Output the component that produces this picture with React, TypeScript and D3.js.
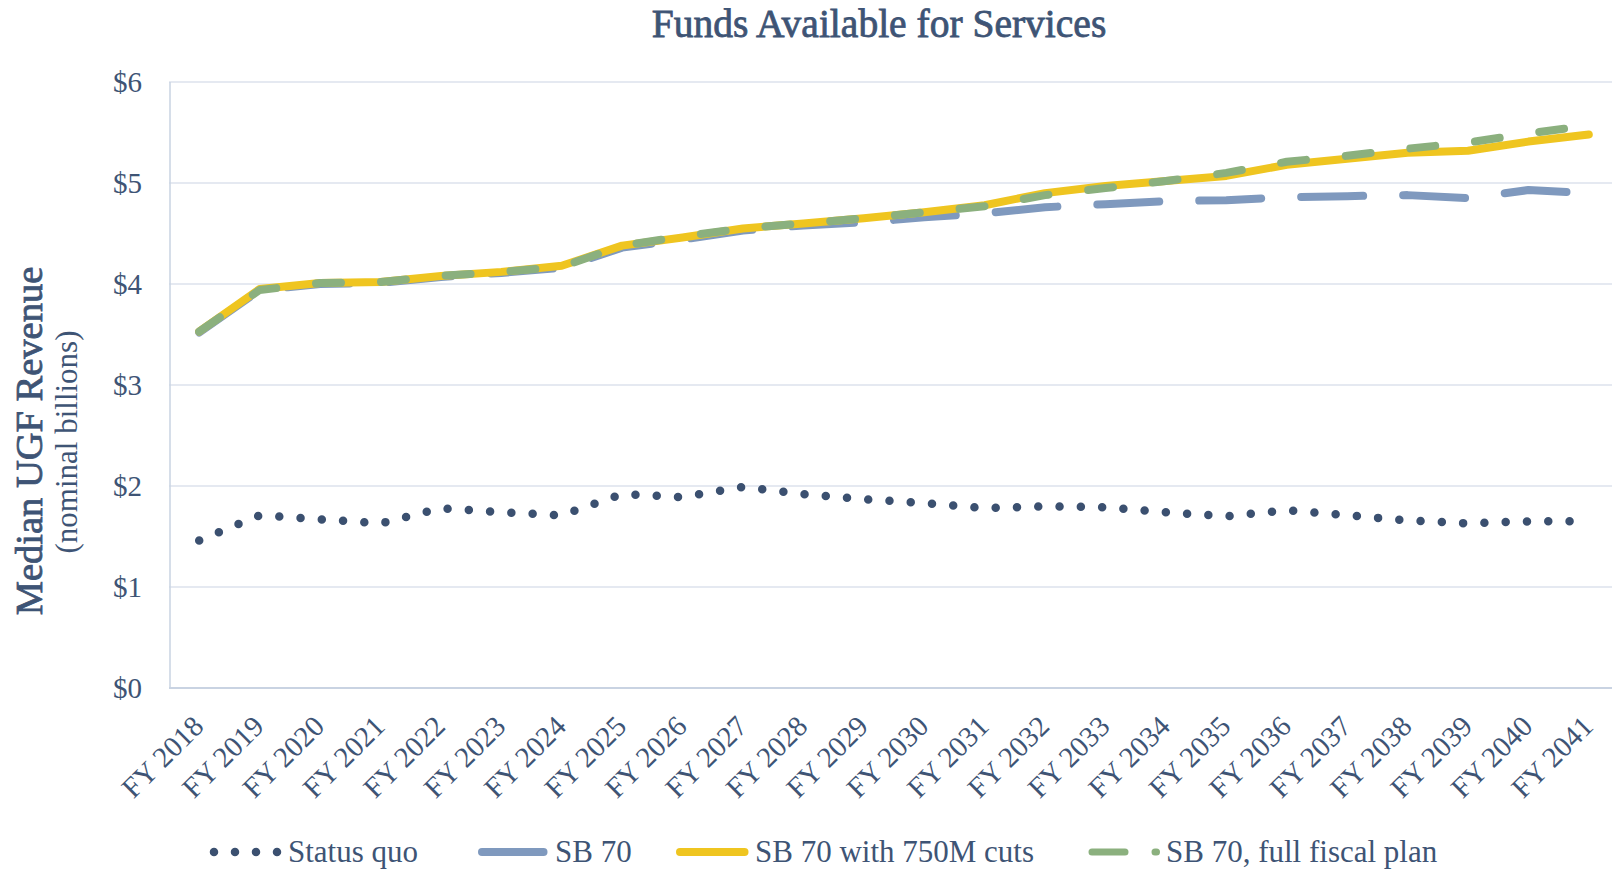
import React, { useRef, useEffect } from "react";
import * as d3 from "d3";

// Fiscal years on the category axis
const years = [
    "FY 2018", "FY 2019", "FY 2020", "FY 2021", "FY 2022", "FY 2023",
    "FY 2024", "FY 2025", "FY 2026", "FY 2027", "FY 2028", "FY 2029",
    "FY 2030", "FY 2031", "FY 2032", "FY 2033", "FY 2034", "FY 2035",
    "FY 2036", "FY 2037", "FY 2038", "FY 2039", "FY 2040", "FY 2041",
];

// Median UGF revenue, nominal $ billions
const statusQuo = [
    1.46, 1.71, 1.67, 1.63, 1.78, 1.74, 1.71, 1.92, 1.89, 1.99, 1.92, 1.87,
    1.83, 1.78, 1.80, 1.79, 1.74, 1.70, 1.76, 1.71, 1.66, 1.63, 1.65, 1.65,
];
const sb70 = [
    3.52, 3.94, 4.00, 4.01, 4.07, 4.11, 4.16, 4.36, 4.44, 4.53, 4.58, 4.61,
    4.66, 4.70, 4.76, 4.79, 4.82, 4.83, 4.86, 4.87, 4.88, 4.85, 4.93, 4.90,
];
const sb70Cuts = [
    3.53, 3.95, 4.01, 4.02, 4.08, 4.12, 4.18, 4.38, 4.46, 4.55, 4.60, 4.65,
    4.71, 4.78, 4.90, 4.97, 5.02, 5.07, 5.18, 5.24, 5.30, 5.32, 5.41, 5.48,
];
const sb70Full = [
    3.53, 3.94, 4.01, 4.02, 4.08, 4.12, 4.17, 4.38, 4.47, 4.55, 4.60, 4.65,
    4.71, 4.77, 4.88, 4.95, 5.02, 5.10, 5.21, 5.27, 5.34, 5.40, 5.49, 5.57,
];

const yTicks = [0, 1, 2, 3, 4, 5, 6];
const seriesNames = ["Status quo", "SB 70", "SB 70 with 750M cuts", "SB 70, full fiscal plan"];

const App = () => {
    const ref = useRef<SVGSVGElement>(null);

    useEffect(() => {
        const svgWidth = 1612;
        const svgHeight = 872;
        const margin = { top: 82, right: -7, bottom: 184, left: 169 };
        const fontFamily = "'Liberation Serif', 'Times New Roman', serif";
        const fontColor = "#3e5475";
        const gridColor = "#dce2ec";
        const axisColor = "#c9d3e2";

        const series = [
            { name: seriesNames[0], values: statusQuo, color: "#3b5070", width: 8.5, dash: "0 21.3" },
            { name: seriesNames[1], values: sb70, color: "#7f99be", width: 8, dash: "62 40" },
            { name: seriesNames[2], values: sb70Cuts, color: "#efc520", width: 8, dash: null },
            { name: seriesNames[3], values: sb70Full, color: "#8bb07e", width: 8, dash: "25 40" },
        ];

        // legend layout: marker start, marker end, text start (px)
        const legendLayout = [
            { x0: 214, x1: 278, tx: 288, dash: "0 21" },
            { x0: 482, x1: 543, tx: 555, dash: null },
            { x0: 680, x1: 744, tx: 755, dash: null },
            { x0: 1092, x1: 1156, tx: 1166, dash: "33 30" },
        ];

        const svg = d3.select(ref.current)
            .attr("width", svgWidth)
            .attr("height", svgHeight);

        svg.selectAll("*").remove();

        const xScale = d3.scaleBand()
            .domain(years)
            .range([margin.left, svgWidth - margin.right])
            .paddingInner(0)
            .paddingOuter(0);
        const xCenter = (d: string) => (xScale(d) as number) + xScale.bandwidth() / 2;

        const yScale = d3.scaleLinear()
            .domain([0, 6])
            .range([svgHeight - margin.bottom, margin.top]);

        // Title (thin stroke to mimic a semibold face)
        svg.append("text")
            .attr("x", 879)
            .attr("y", 37)
            .attr("text-anchor", "middle")
            .style("font-family", fontFamily)
            .style("font-size", "39.5px")
            .style("fill", fontColor)
            .style("stroke", fontColor)
            .style("stroke-width", 0.8)
            .text("Funds Available for Services");

        // Horizontal grid lines
        svg.append("g")
            .attr("class", "grid")
            .selectAll("line")
            .data(yTicks.filter(d => d > 0))
            .join("line")
            .attr("x1", margin.left)
            .attr("x2", svgWidth - margin.right)
            .attr("y1", d => yScale(d))
            .attr("y2", d => yScale(d))
            .attr("stroke", gridColor)
            .attr("stroke-width", 1.5);

        // Axis lines
        svg.append("line")
            .attr("x1", margin.left + 1)
            .attr("x2", margin.left + 1)
            .attr("y1", margin.top)
            .attr("y2", yScale(0))
            .attr("stroke", axisColor)
            .attr("stroke-width", 1.5);

        svg.append("line")
            .attr("x1", margin.left)
            .attr("x2", svgWidth)
            .attr("y1", yScale(0))
            .attr("y2", yScale(0))
            .attr("stroke", axisColor)
            .attr("stroke-width", 2);

        // Y tick labels
        svg.append("g")
            .selectAll("text")
            .data(yTicks)
            .join("text")
            .attr("x", 142)
            .attr("y", d => yScale(d))
            .attr("dy", "0.35em")
            .attr("text-anchor", "end")
            .style("font-family", fontFamily)
            .style("font-size", "29px")
            .style("fill", fontColor)
            .text(d => "$" + d);

        // X tick labels, rotated
        svg.append("g")
            .selectAll("text")
            .data(years)
            .join("text")
            .attr("transform", d => `translate(${xCenter(d) + 6},${yScale(0) + 40}) rotate(-45)`)
            .attr("text-anchor", "end")
            .style("font-family", fontFamily)
            .style("font-size", "29px")
            .style("fill", fontColor)
            .text(d => d);

        // Y axis title
        svg.append("text")
            .attr("transform", `translate(42, 441) rotate(-90)`)
            .attr("text-anchor", "middle")
            .style("font-family", fontFamily)
            .style("font-size", "38.5px")
            .style("fill", fontColor)
            .style("stroke", fontColor)
            .style("stroke-width", 0.8)
            .text("Median UGF Revenue");

        svg.append("text")
            .attr("transform", `translate(77, 442) rotate(-90)`)
            .attr("text-anchor", "middle")
            .style("font-family", fontFamily)
            .style("font-size", "31px")
            .style("fill", fontColor)
            .text("(nominal billions)");

        // Lines
        const line = d3.line<number>()
            .x((d, i) => xCenter(years[i]))
            .y(d => yScale(d));

        series.forEach(s => {
            const p = svg.append("path")
                .datum(s.values)
                .attr("fill", "none")
                .attr("stroke", s.color)
                .attr("stroke-width", s.width)
                .attr("stroke-linecap", "round")
                .attr("stroke-linejoin", "round")
                .attr("d", line);
            if (s.dash) p.attr("stroke-dasharray", s.dash);
        });

        // Legend
        const legendY = 852;
        const legend = svg.append("g").attr("class", "legend");

        series.forEach((s, i) => {
            const lay = legendLayout[i];
            const mk = legend.append("line")
                .attr("x1", lay.x0)
                .attr("x2", lay.x1 + 0.5)
                .attr("y1", legendY)
                .attr("y2", legendY)
                .attr("stroke", s.color)
                .attr("stroke-width", i === 3 ? 7 : s.width)
                .attr("stroke-linecap", "round");
            if (lay.dash) mk.attr("stroke-dasharray", lay.dash);

            legend.append("text")
                .attr("x", lay.tx)
                .attr("y", legendY + 10)
                .style("font-family", fontFamily)
                .style("font-size", "31px")
                .style("fill", fontColor)
                .text(s.name);
        });
    }, []);

    return (
        <svg ref={ref} style={{ position: "absolute", left: 0, top: 0, display: "block" }}></svg>
    );
};

export default App;
